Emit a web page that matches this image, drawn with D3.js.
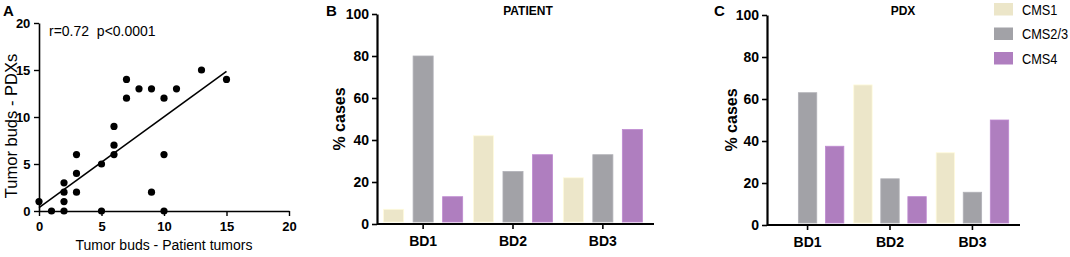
<!DOCTYPE html>
<html lang="en">
<meta charset="utf-8">
<head>
    <script src='https://d3js.org/d3.v7.min.js'></script>
    <style>
        body { margin: 0; background: #fff; }
        text { font-family: "Liberation Sans", Arial, sans-serif; fill: #000; }
    </style>
</head>
<body>
<div id="chart"></div>
<script>

// panel A data: patient tumour buds vs PDX tumour buds
const budsPatient = [0, 1, 2, 2, 2, 2, 3, 3, 3, 5, 5, 6, 6, 6, 7, 7, 8, 9, 9, 10, 10, 10, 11, 13, 15]
const budsPdx     = [1, 0, 0, 1, 2, 3, 2, 4, 6, 0, 5, 6, 7, 9, 12, 14, 13, 13, 2, 12, 6, 0, 13, 15, 14]
const fitLine = [[0, 0.35], [15, 14.85]]
const scatterTicks = [0, 5, 10, 15, 20]

// panels B and C
const groups = ["BD1", "BD2", "BD3"]
const subtypes = ["CMS1", "CMS2/3", "CMS4"]
const patientCMS1 = [7, 42, 22]
const patientCMS23 = [80, 25, 33]
const patientCMS4 = [13, 33, 45]
const pdxCMS1 = [0, 66.7, 34.4]
const pdxCMS23 = [63, 22, 15.6]
const pdxCMS4 = [37.5, 13.5, 50]
const pctTicks = [0, 20, 40, 60, 80, 100]

const colors = ["#ece6c9", "#a2a2a7", "#af7ebf"]

const width = 1070, height = 257;

const svg = d3.select("#chart")
    .append("svg")
    .attr("width", width)
    .attr("height", height);

// ---------- panel A ----------
const xA = d3.scaleLinear().domain([0, 20]).range([39, 289]);
const yA = d3.scaleLinear().domain([0, 20]).range([211, 23]);

svg.append("text").attr("x", 3).attr("y", 16)
    .style("font-size", "15px").style("font-weight", "bold").text("A");

const axA = svg.append("g").attr("transform", `translate(0,${yA(0)})`)
    .call(d3.axisBottom(xA).tickValues(scatterTicks).tickSize(5).tickSizeOuter(0));
const ayA = svg.append("g").attr("transform", `translate(${xA(0)},0)`)
    .call(d3.axisLeft(yA).tickValues(scatterTicks).tickSize(5).tickSizeOuter(0));
[axA, ayA].forEach(g => {
    g.select(".domain").attr("stroke", "#000").attr("stroke-width", 1.6);
    g.selectAll(".tick line").attr("stroke", "#000").attr("stroke-width", 1.4);
    g.selectAll(".tick text").style("font-size", "13px").style("font-weight", "bold")
        .attr("font-family", null);
});
axA.selectAll(".tick text").attr("dy", "0.95em");
ayA.selectAll(".tick text").attr("dx", "-0.05em");

svg.append("path")
    .attr("d", d3.line().x(d => xA(d[0])).y(d => yA(d[1]))(fitLine))
    .attr("stroke", "#000").attr("stroke-width", 1.6).attr("fill", "none");

svg.append("g").selectAll("circle")
    .data(budsPatient.map((v, i) => [v, budsPdx[i]]))
    .join("circle")
    .attr("cx", d => xA(d[0]))
    .attr("cy", d => yA(d[1]))
    .attr("r", 3.6)
    .attr("fill", "#000");

svg.append("text").attr("x", 49).attr("y", 36)
    .attr("xml:space", "preserve")
    .style("font-size", "14px").style("white-space", "pre").text("r=0.72  p<0.0001");

svg.append("text").attr("x", 164).attr("y", 250)
    .attr("text-anchor", "middle").style("font-size", "14px")
    .text("Tumor buds - Patient tumors");

svg.append("text")
    .attr("transform", `translate(17,${(yA(0) + yA(20)) / 2 + 9}) rotate(-90)`)
    .attr("text-anchor", "middle").style("font-size", "16.5px")
    .text("Tumor buds - PDXs");

// ---------- bar panels ----------
function barPanel(opts) {
    const series = opts.series;
    const x0 = d3.scaleBand().domain(groups).range([opts.x0, opts.x1]).paddingInner(0.12).paddingOuter(0.04);
    const x1 = d3.scaleBand().domain(subtypes).range([0, x0.bandwidth()]).paddingInner(0.32);
    const y = d3.scaleLinear().domain([0, 100]).range([opts.yBottom, opts.yTop]);

    svg.append("text").attr("x", opts.labelX).attr("y", 16)
        .style("font-size", "15px").style("font-weight", "bold").text(opts.label);
    svg.append("text").attr("x", opts.titleX).attr("y", 15)
        .attr("text-anchor", "middle")
        .style("font-size", "12px").style("font-weight", "bold").text(opts.title);

    const rows = groups.map((g, i) => ({group: g, values: series.map(s => s[i])}));

    svg.append("g").selectAll("g")
        .data(rows)
        .join("g")
        .attr("transform", d => `translate(${x0(d.group)},0)`)
        .selectAll("rect")
        .data(d => d.values.map((v, k) => ({key: subtypes[k], value: v, k: k})))
        .join("rect")
        .attr("x", d => x1(d.key))
        .attr("width", x1.bandwidth())
        .attr("y", d => y(d.value))
        .attr("height", d => Math.max(0, y(0) - 2 - y(d.value)))
        .attr("fill", d => colors[d.k])
        .attr("stroke", d => d3.color(colors[d.k]).brighter(0.25))
        .attr("stroke-width", 0.8);

    const ax = svg.append("g").attr("transform", `translate(0,${y(0)})`)
        .call(d3.axisBottom(x0).tickSize(5).tickSizeOuter(0));
    ax.select(".domain").attr("d", `M${opts.axisX},0H${opts.x1 + 8}`);
    const ay = svg.append("g").attr("transform", `translate(${opts.axisX},0)`)
        .call(d3.axisLeft(y).tickValues(pctTicks).tickSize(5).tickSizeOuter(0));
    [ax, ay].forEach(g => {
        g.select(".domain").attr("stroke", "#000").attr("stroke-width", 2.2);
        g.selectAll(".tick line").attr("stroke", "#000").attr("stroke-width", 1.6);
        g.selectAll(".tick text").style("font-size", "14px").style("font-weight", "bold")
            .attr("font-family", null);
    });
    ax.selectAll(".tick text").attr("dy", "1.0em");

    svg.append("text")
        .attr("transform", `translate(${opts.axisX - opts.ylabelOff},${(y(0) + y(100)) / 2}) rotate(-90)`)
        .attr("text-anchor", "middle")
        .style("font-size", "16px").style("font-weight", "bold")
        .text("% cases");
}

barPanel({
    label: "B", labelX: 326, title: "PATIENT", titleX: 528,
    axisX: 377, x0: 380, x1: 646, yBottom: 224, yTop: 14, ylabelOff: 32,
    series: [patientCMS1, patientCMS23, patientCMS4]
});

barPanel({
    label: "C", labelX: 714, title: "PDX", titleX: 903,
    axisX: 767, x0: 768, x1: 1012, yBottom: 225, yTop: 15, ylabelOff: 30,
    series: [pdxCMS1, pdxCMS23, pdxCMS4]
});

// legend
const legend = svg.append("g").selectAll("g")
    .data(subtypes)
    .join("g")
    .attr("transform", (d, i) => `translate(994,${3 + i * 24.5})`);
legend.append("rect")
    .attr("width", 19).attr("height", 12.5)
    .attr("fill", (d, i) => colors[i]);
legend.append("text")
    .attr("transform", "translate(28,11.5) scale(0.88,1)")
    .style("font-size", "14.5px")
    .text(d => d);

</script>
</body>
</html>
